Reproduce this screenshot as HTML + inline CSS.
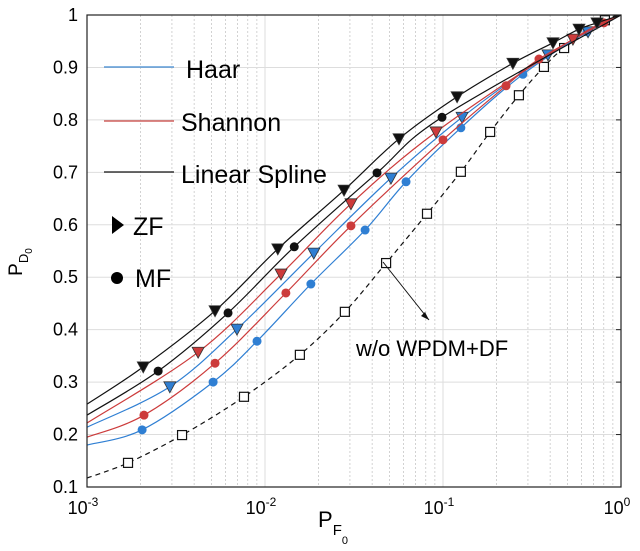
<!DOCTYPE html>
<html><head><meta charset="utf-8"><style>
body{margin:0;background:#fff;}
svg{display:block;font-family:"Liberation Sans",Arial,sans-serif;}
</style></head><body>
<svg id="chart" width="640" height="551" viewBox="0 0 640 551">
<g id="grid"></g>
<g id="series"></g>
<rect x="87" y="15" width="534" height="472" fill="none" stroke="#222" stroke-width="1.2"/>
<g id="ticks"></g>
<g><text x="22" y="262" font-size="19" transform="rotate(-90 22 262)" text-anchor="middle">P<tspan font-size="13" dy="6">D</tspan><tspan font-size="10" dy="4">0</tspan></text></g>
<g><text x="318" y="527" font-size="22">P<tspan font-size="15" dy="8">F</tspan><tspan font-size="11" dy="9">0</tspan></text></g>
<g>
<line x1="104" y1="67" x2="174" y2="67" stroke="#3b86d0" stroke-width="1.3"/>
<text x="186" y="78" font-size="25">Haar</text>
<line x1="104" y1="121" x2="174" y2="121" stroke="#c8403f" stroke-width="1.3"/>
<text x="181" y="131" font-size="25">Shannon</text>
<line x1="104" y1="172" x2="174" y2="172" stroke="#111" stroke-width="1.3"/>
<text x="181" y="183" font-size="25">Linear Spline</text>
<path d="M112,216 L124,225 L112,234 Z" fill="#000"/>
<text x="133" y="235" font-size="25">ZF</text>
<circle cx="117" cy="278" r="6" fill="#000"/>
<text x="135" y="287" font-size="25">MF</text>
</g>
<g>
<line x1="383" y1="262" x2="429" y2="320" stroke="#111" stroke-width="1"/>
<path d="M429,320 L421,316 L425,312 Z" fill="#111"/>
<text x="356" y="356" font-size="22">w/o WPDM+DF</text>
</g>
</svg>
<script>
// Data (x = P_F0, y = P_D0)
const dfX=[0.001,0.00170,0.00342,0.00762,0.0157,0.0281,0.0479,0.0813,0.126,0.184,0.267,0.369,0.479,0.812,1];
const dfY=[0.117,0.146,0.199,0.272,0.352,0.434,0.527,0.621,0.701,0.777,0.847,0.901,0.937,0.990,1];
const haarMfX=[0.001,0.00204,0.00511,0.00902,0.0181,0.0365,0.0620,0.126,0.281,0.644,1];
const haarMfY=[0.180,0.209,0.300,0.378,0.487,0.590,0.682,0.785,0.887,0.968,1];
const haarZfX=[0.001,0.00292,0.00696,0.0188,0.0510,0.128,0.389,0.653,1];
const haarZfY=[0.214,0.291,0.401,0.546,0.689,0.805,0.924,0.968,1];
const shMfX=[0.001,0.00209,0.00524,0.0131,0.0304,0.100,0.226,0.346,0.802,1];
const shMfY=[0.195,0.237,0.336,0.470,0.598,0.762,0.865,0.916,0.985,1];
const shZfX=[0.001,0.00421,0.0123,0.0304,0.0914,0.537,1];
const shZfY=[0.222,0.357,0.506,0.640,0.777,0.954,1];
const lsMfX=[0.001,0.00251,0.00620,0.0146,0.0426,0.0987,1];
const lsMfY=[0.237,0.321,0.432,0.558,0.699,0.805,1];
const lsZfX=[0.001,0.00207,0.00524,0.0118,0.0278,0.0566,0.120,0.247,0.415,0.581,0.733,1];
const lsZfY=[0.258,0.329,0.436,0.554,0.666,0.764,0.844,0.908,0.947,0.973,0.985,1];
const yTicks=[0.1,0.2,0.3,0.4,0.5,0.6,0.7,0.8,0.9,1];
const xTickExp=[-3,-2,-1,0];

const X0=87,X1=621,Y0=487,Y1=15;
function sx(v){return X0+(Math.log10(v)+3)/3*(X1-X0);}
function sy(v){return Y0-(v-0.1)/0.9*(Y0-Y1);}
const NS="http://www.w3.org/2000/svg";
function mk(tag,parent,attrs){const e=document.createElementNS(NS,tag);for(const k in attrs)e.setAttribute(k,attrs[k]);parent.appendChild(e);return e;}
const grid=document.getElementById('grid'),ticks=document.getElementById('ticks'),ser=document.getElementById('series');
for(let d=-3;d<0;d++){for(let m=2;m<=9;m++){const x=sx(m*Math.pow(10,d));
 const l=mk('line',grid,{x1:x,x2:x,y1:Y1,y2:Y0,stroke:'#c8c8c8','stroke-width':0.8,'stroke-dasharray':'2,2'});
 
 }}
xTickExp.forEach(e=>{const x=sx(Math.pow(10,e));
 const l=mk('line',grid,{x1:x,x2:x,y1:Y1,y2:Y0,stroke:'#ddd','stroke-width':1});
 
 
 const t=mk('text',ticks,{x:x-4,y:Y0+27,'font-size':18,'text-anchor':'middle'});
 t.innerHTML='10<tspan font-size="12" dy="-8">'+e+'</tspan>';
 
 });
yTicks.forEach(v=>{const y=sy(v);
 const l=mk('line',grid,{x1:X0,x2:X1,y1:y,y2:y,stroke:'#ddd','stroke-width':1});
 
 
 mk('line',ticks,{x1:X1-5,x2:X1,y1:y,y2:y,stroke:'#222'});
 const t=mk('text',ticks,{x:X0-9,y:y+6,'font-size':18,'text-anchor':'end'});
 t.textContent=(v===1?'1':v.toFixed(1));
 
 });
function smoothPath(P){
 let d=`M${P[0][0]},${P[0][1]}`;
 for(let i=0;i<P.length-1;i++){const p0=P[Math.max(0,i-1)],p1=P[i],p2=P[i+1],p3=P[Math.min(P.length-1,i+2)];
  const c1=[p1[0]+(p2[0]-p0[0])/6,p1[1]+(p2[1]-p0[1])/6],c2=[p2[0]-(p3[0]-p1[0])/6,p2[1]-(p3[1]-p1[1])/6];
  d+=` C${c1[0].toFixed(1)},${c1[1].toFixed(1)} ${c2[0].toFixed(1)},${c2[1].toFixed(1)} ${p2[0].toFixed(1)},${p2[1].toFixed(1)}`;}
 return d;}
function series(xs,ys,color,marker,name,dash){
 const P=xs.map((x,i)=>[sx(x),sy(ys[i])]);
 const p=mk('path',ser,{d:smoothPath(P),fill:'none',stroke:color,'stroke-width':1.2});
 if(dash)p.setAttribute('stroke-dasharray','5,4');
 
 
 for(let i=1;i<xs.length-1;i++){const cx=P[i][0],cy=P[i][1];let m;
  if(marker==='circle')m=mk('circle',ser,{cx:cx,cy:cy,r:4.5,fill:color});
  else if(marker==='tri')m=mk('path',ser,{d:`M${cx-6},${cy-5} L${cx+6},${cy-5} L${cx},${cy+6} Z`,fill:color,stroke:'#333','stroke-width':0.8});
  else m=mk('rect',ser,{x:cx-4.5,y:cy-4.5,width:9,height:9,fill:'#fff',stroke:'#111','stroke-width':1.2});
  
  }
}
series(dfX,dfY,'#111','square','wo-wpdm-df',true);
series(haarMfX,haarMfY,'#2f7fd3','circle','haar-mf');
series(haarZfX,haarZfY,'#2f7fd3','tri','haar-zf');
series(shMfX,shMfY,'#cc3b3b','circle','shannon-mf');
series(shZfX,shZfY,'#cc3b3b','tri','shannon-zf');
series(lsMfX,lsMfY,'#111','circle','spline-mf');
series(lsZfX,lsZfY,'#111','tri','spline-zf');
</script>
</body></html>
